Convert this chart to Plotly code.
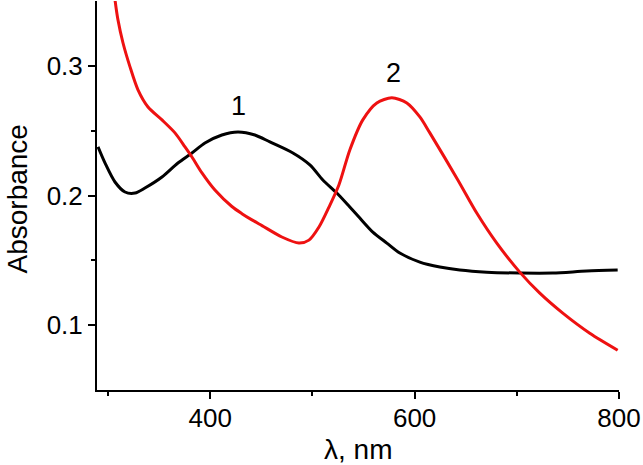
import plotly.graph_objects as go

# Curve 1 (black)
wl_1 = [290.2, 297.0, 306.8, 316.6, 326.4, 336.1, 352.8, 368.4, 382.1, 394.8, 411.4, 427.1,
        443.7, 458.4, 480.9, 497.5, 510.2, 523.9, 536.6, 546.4, 559.1, 572.8, 585.5, 605.1,
        624.7, 644.2, 670.6, 702.9, 735.2, 768.4, 798.7]
abs_1 = [0.2375, 0.2251, 0.2104, 0.2027, 0.2019, 0.2058, 0.2143, 0.2251, 0.2328, 0.2405, 0.2467, 0.2490,
         0.2467, 0.2413, 0.2328, 0.2236, 0.2120, 0.2019, 0.1911, 0.1826, 0.1718, 0.1633, 0.1556, 0.1486,
         0.1448, 0.1425, 0.1409, 0.1402, 0.1402, 0.1417, 0.1425]

# Curve 2 (red)
wl_2 = [303.5, 306.8, 309.7, 314.6, 321.5, 329.3, 339.1, 352.8, 365.5, 375.3, 382.1, 391.9, 404.6,
        421.2, 431.0, 440.8, 450.6, 470.1, 486.8, 496.6, 506.4, 516.2, 525.9, 536.6, 549.3, 563.0,
        577.7, 592.4, 605.1, 614.9, 642.3, 660.8, 680.4, 702.9, 722.5, 745.0, 771.4, 798.7]
abs_2 = [0.375, 0.351, 0.3355, 0.3178, 0.2992, 0.2815, 0.2683, 0.2583, 0.2483, 0.2375, 0.2297, 0.2174, 0.2042,
         0.1915, 0.1860, 0.1812, 0.1768, 0.1680, 0.1633, 0.1656, 0.1757, 0.1911, 0.2081, 0.2351, 0.2583, 0.2714,
         0.2753, 0.2714, 0.2606, 0.2483, 0.2120, 0.1865, 0.1633, 0.1409, 0.1247, 0.1093, 0.0938, 0.0807]

curve_labels = ["1", "2"]
label_x = [428, 579]
label_y = [0.269, 0.2945]

x_ticks = [400, 600, 800]
y_ticks = [0.1, 0.2, 0.3]

FONT = "Liberation Sans, Arial, sans-serif"

fig = go.Figure()
fig.add_trace(go.Scatter(x=wl_1, y=abs_1, mode="lines",
                         line=dict(color="black", width=3, shape="spline", smoothing=0.8),
                         showlegend=False))
fig.add_trace(go.Scatter(x=wl_2, y=abs_2, mode="lines",
                         line=dict(color="#ee1111", width=3, shape="spline", smoothing=0.8),
                         showlegend=False))

for t, xx, yy in zip(curve_labels, label_x, label_y):
    fig.add_annotation(x=xx, y=yy, text=t, showarrow=False,
                       font=dict(family=FONT, size=27, color="black"))

fig.add_annotation(xref="paper", yref="paper", x=0, y=0.5, xshift=-80, yshift=-4,
                   xanchor="center", yanchor="middle",
                   text="Absorbance", textangle=-90, showarrow=False,
                   font=dict(family=FONT, size=28, color="black"))
fig.add_annotation(xref="paper", yref="paper", x=0.5, y=0, yshift=-59,
                   xanchor="center", yanchor="middle",
                   text="λ, nm", showarrow=False,
                   font=dict(family=FONT, size=28, color="black"))

fig.update_xaxes(range=[289.2, 800], tickvals=x_ticks, ticks="outside", ticklen=7, tickwidth=2,
                 tickcolor="black", showline=True, linecolor="black", linewidth=2,
                 showgrid=False, zeroline=False, ticklabelstandoff=-3,
                 tickfont=dict(family=FONT, size=26, color="black"),
                 minor=dict(tickvals=[300, 500, 700], ticks="outside", ticklen=4,
                            tickwidth=2, tickcolor="black", showgrid=False))
fig.update_yaxes(range=[0.05, 0.35], tickvals=y_ticks, ticktext=["0.1", "0.2", "0.3"],
                 ticks="outside", ticklen=7, tickwidth=2,
                 tickcolor="black", showline=True, linecolor="black", linewidth=2,
                 showgrid=False, zeroline=False,
                 tickfont=dict(family=FONT, size=26, color="black"),
                 minor=dict(tickvals=[0.15, 0.25], ticks="outside", ticklen=4,
                            tickwidth=2, tickcolor="black", showgrid=False))

fig.update_layout(width=643, height=465, margin=dict(l=97, r=24, t=1, b=75),
                  plot_bgcolor="white", paper_bgcolor="white")

fig.write_html("out.html", config={"displayModeBar": False},
               post_script="document.body.style.margin='0';")
